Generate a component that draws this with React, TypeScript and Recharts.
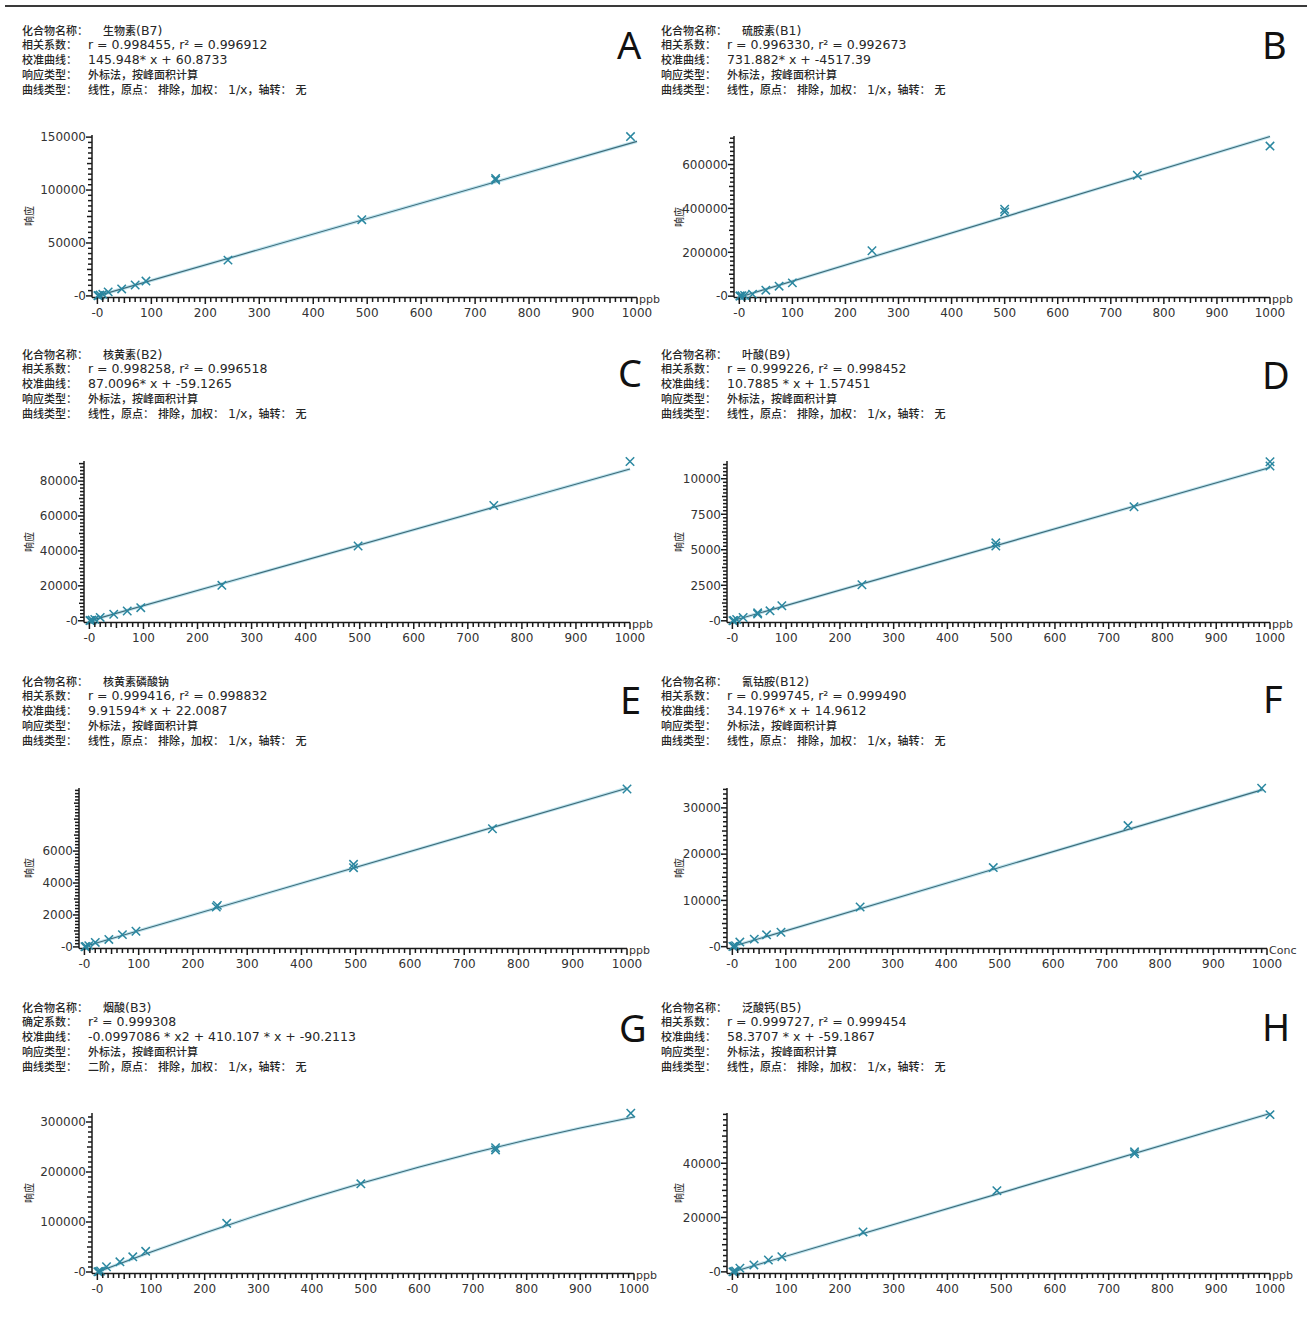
import React from 'react';
import { ScatterChart, Scatter, XAxis, YAxis } from 'recharts';

// ---------- shared axis labels ----------
const xTickLabels = [0, 100, 200, 300, 400, 500, 600, 700, 800, 900, 1000];
const labelsStd = ['化合物名称：', '相关系数：', '校准曲线：', '响应类型：', '曲线类型：'];
const labelsG = ['化合物名称：', '确定系数：', '校准曲线：', '响应类型：', '曲线类型：'];

// ---------- A 生物素(B7) ----------
const textA = ['生物素(B7)', 'r = 0.998455, r² = 0.996912', '145.948* x + 60.8733', '外标法，按峰面积计算', '线性，原点： 排除，加权： 1/x，轴转： 无'];
const concA = [1, 2, 5, 10, 20, 45, 70, 90, 242, 490, 738, 738, 988];
const respA = [200, 400, 800, 1500, 3800, 6600, 10300, 14000, 33800, 72000, 109500, 111000, 150500];
const fitConcA = [0, 1000];
const fitRespA = [60, 146000];
const yLabelsA = [0, 50000, 100000, 150000];

// ---------- B 硫胺素(B1) ----------
const textB = ['硫胺素(B1)', 'r = 0.996330, r² = 0.992673', '731.882* x + -4517.39', '外标法，按峰面积计算', '线性，原点： 排除，加权： 1/x，轴转： 无'];
const concB = [1, 2, 5, 10, 25, 50, 75, 100, 250, 500, 500, 750, 1000];
const respB = [500, 1000, 2000, 3000, 9000, 27300, 45500, 60700, 207000, 384000, 396000, 551000, 684000];
const fitConcB = [0, 1000];
const fitRespB = [-4500, 727400];
const yLabelsB = [0, 200000, 400000, 600000];

// ---------- C 核黄素(B2) ----------
const textC = ['核黄素(B2)', 'r = 0.998258, r² = 0.996518', '87.0096* x + -59.1265', '外标法，按峰面积计算', '线性，原点： 排除，加权： 1/x，轴转： 无'];
const concC = [1, 2, 5, 10, 20, 45, 70, 95, 245, 497, 748, 1000];
const respC = [100, 200, 400, 800, 1900, 3750, 5600, 7500, 20300, 42800, 66000, 91200];
const fitConcC = [0, 1000];
const fitRespC = [-60, 86950];
const yLabelsC = [0, 20000, 40000, 60000, 80000];

// ---------- D 叶酸(B9) ----------
const textD = ['叶酸(B9)', 'r = 0.999226, r² = 0.998452', '10.7885 * x + 1.57451', '外标法，按峰面积计算', '线性，原点： 排除，加权： 1/x，轴转： 无'];
const concD = [1, 3, 8, 20, 47, 47, 70, 92, 241, 490, 490, 747, 1000, 1000];
const respD = [10, 30, 90, 230, 480, 560, 700, 1060, 2540, 5260, 5490, 8030, 10900, 11200];
const fitConcD = [0, 1000];
const fitRespD = [2, 10790];
const yLabelsD = [0, 2500, 5000, 7500, 10000];

// ---------- E 核黄素磷酸钠 ----------
const textE = ['核黄素磷酸钠', 'r = 0.999416, r² = 0.998832', '9.91594* x + 22.0087', '外标法，按峰面积计算', '线性，原点： 排除，加权： 1/x，轴转： 无'];
const concE = [1, 3, 8, 20, 45, 70, 95, 243, 245, 496, 496, 752, 1000];
const respE = [10, 30, 80, 280, 470, 770, 980, 2500, 2600, 4960, 5170, 7400, 9890];
const fitConcE = [0, 1000];
const fitRespE = [22, 9940];
const yLabelsE = [0, 2000, 4000, 6000];

// ---------- F 氰钴胺(B12) ----------
const textF = ['氰钴胺(B12)', 'r = 0.999745, r² = 0.999490', '34.1976* x + 14.9612', '外标法，按峰面积计算', '线性，原点： 排除，加权： 1/x，轴转： 无'];
const concF = [1, 3, 6, 14, 41, 64, 91, 239, 488, 740, 990];
const respF = [30, 100, 200, 990, 1630, 2550, 3120, 8580, 17090, 26170, 34250];
const fitConcF = [0, 992];
const fitRespF = [15, 33950];
const yLabelsF = [0, 10000, 20000, 30000];

// ---------- G 烟酸(B3) ----------
const textG = ['烟酸(B3)', 'r² = 0.999308', '-0.0997086 * x2 + 410.107 * x + -90.2113', '外标法，按峰面积计算', '二阶，原点： 排除，加权： 1/x，轴转： 无'];
const concG = [1, 3, 6, 17, 42, 66, 90, 241, 491, 742, 742, 994];
const respG = [300, 900, 2000, 10500, 20400, 30300, 41400, 97400, 176300, 244100, 248700, 317700];
const fitConcG = [0, 100, 200, 300, 400, 500, 600, 700, 800, 900, 1000];
const fitRespG = [-90, 39900, 78000, 114000, 148000, 180000, 210000, 238000, 264000, 288000, 310000];
const yLabelsG = [0, 100000, 200000, 300000];

// ---------- H 泛酸钙(B5) ----------
const textH = ['泛酸钙(B5)', 'r = 0.999727, r² = 0.999454', '58.3707 * x + -59.1867', '外标法，按峰面积计算', '线性，原点： 排除，加权： 1/x，轴转： 无'];
const concH = [1, 3, 6, 14, 40, 67, 92, 243, 492, 748, 748, 1000];
const respH = [0, 100, 300, 1340, 2550, 4380, 5600, 14700, 29900, 43500, 44200, 57900];
const fitConcH = [0, 1000];
const fitRespH = [-60, 58310];
const yLabelsH = [0, 20000, 40000];

type Layout = {
  panelX: number; textX: number; textTop: number; letterLeft: number; letterTop: number;
  axisX: number; plotTop: number; plotBottom: number; plotRight: number;
};
type PanelDef = {
  letter: string; labels: string[]; text: string[];
  conc: number[]; resp: number[]; fitConc: number[]; fitResp: number[];
  yLabels: number[]; yStep: number; yTop: number; yDomain: [number, number];
  unit: string; curve: 'linear' | 'monotoneX'; layout: Layout;
};

const panels: PanelDef[] = [
  { letter: 'A', labels: labelsStd, text: textA, conc: concA, resp: respA, fitConc: fitConcA, fitResp: fitRespA,
    yLabels: yLabelsA, yStep: 5000, yTop: 150000, yDomain: [-1500, 152000], unit: 'ppb', curve: 'linear',
    layout: { panelX: 0, textX: 22, textTop: 30, letterLeft: 617, letterTop: 32, axisX: 92, plotTop: 135, plotBottom: 297.5, plotRight: 637 } },
  { letter: 'B', labels: labelsStd, text: textB, conc: concB, resp: respB, fitConc: fitConcB, fitResp: fitRespB,
    yLabels: yLabelsB, yStep: 20000, yTop: 720000, yDomain: [-6000, 730000], unit: 'ppb', curve: 'linear',
    layout: { panelX: 650, textX: 661, textTop: 30, letterLeft: 1262, letterTop: 32, axisX: 734, plotTop: 136, plotBottom: 297.5, plotRight: 1270 } },
  { letter: 'C', labels: labelsStd, text: textC, conc: concC, resp: respC, fitConc: fitConcC, fitResp: fitRespC,
    yLabels: yLabelsC, yStep: 2000, yTop: 90000, yDomain: [-1000, 91500], unit: 'ppb', curve: 'linear',
    layout: { panelX: 0, textX: 22, textTop: 354, letterLeft: 618, letterTop: 360, axisX: 84, plotTop: 461, plotBottom: 622.5, plotRight: 630 } },
  { letter: 'D', labels: labelsStd, text: textD, conc: concD, resp: respD, fitConc: fitConcD, fitResp: fitRespD,
    yLabels: yLabelsD, yStep: 250, yTop: 11000, yDomain: [-120, 11250], unit: 'ppb', curve: 'linear',
    layout: { panelX: 650, textX: 661, textTop: 354, letterLeft: 1262, letterTop: 362, axisX: 727, plotTop: 461, plotBottom: 622.5, plotRight: 1270 } },
  { letter: 'E', labels: labelsStd, text: textE, conc: concE, resp: respE, fitConc: fitConcE, fitResp: fitRespE,
    yLabels: yLabelsE, yStep: 200, yTop: 9800, yDomain: [-100, 9950], unit: 'ppb', curve: 'linear',
    layout: { panelX: 0, textX: 22, textTop: 681, letterLeft: 620, letterTop: 687, axisX: 79, plotTop: 788, plotBottom: 948.5, plotRight: 627 } },
  { letter: 'F', labels: labelsStd, text: textF, conc: concF, resp: respF, fitConc: fitConcF, fitResp: fitRespF,
    yLabels: yLabelsF, yStep: 1000, yTop: 34000, yDomain: [-400, 34300], unit: 'Conc', curve: 'linear',
    layout: { panelX: 650, textX: 661, textTop: 681, letterLeft: 1263, letterTop: 686, axisX: 727, plotTop: 788, plotBottom: 948.5, plotRight: 1267 } },
  { letter: 'G', labels: labelsG, text: textG, conc: concG, resp: respG, fitConc: fitConcG, fitResp: fitRespG,
    yLabels: yLabelsG, yStep: 10000, yTop: 310000, yDomain: [-3000, 318000], unit: 'ppb', curve: 'monotoneX',
    layout: { panelX: 0, textX: 22, textTop: 1007, letterLeft: 619, letterTop: 1015, axisX: 92, plotTop: 1113, plotBottom: 1273.5, plotRight: 634 } },
  { letter: 'H', labels: labelsStd, text: textH, conc: concH, resp: respH, fitConc: fitConcH, fitResp: fitRespH,
    yLabels: yLabelsH, yStep: 2000, yTop: 58000, yDomain: [-600, 58500], unit: 'ppb', curve: 'linear',
    layout: { panelX: 650, textX: 661, textTop: 1007, letterLeft: 1262, letterTop: 1014, axisX: 727, plotTop: 1113, plotBottom: 1273.5, plotRight: 1270 } },
];

const xMinorTicks: number[] = [];
for (let v = 0; v <= 1000; v += 10) xMinorTicks.push(v);

const AXIS = '#1a1a1a';
const TICK_TXT = '#333';
const MARK = '#2a87a0';
const FIT = '#3d6a78';
const HALO = '#bfe4ee';
const LATIN = '"DejaVu Sans", Verdana, sans-serif';
const CJK_FONT = '"Noto Sans CJK SC", sans-serif';

const CJK_RE = /([\u2E80-\u9FFF\u3000-\u303F\uFF00-\uFFEF]+)/;

function Mixed({ text, cjkSize }: { text: string; cjkSize: number }) {
  const parts = text.split(CJK_RE);
  return (
    <>
      {parts.map((p, i) =>
        p === '' ? null : i % 2 === 1 ? (
          <span key={i} style={{ fontFamily: CJK_FONT, fontSize: cjkSize, fontWeight: 500 }}>{p}</span>
        ) : (
          <span key={i}>{p}</span>
        )
      )}
    </>
  );
}

const fmt = (v: number) => (v === 0 ? '-0' : String(v));

const makeXTick = (unit: string) => (props: any) => {
  const { x, y, payload } = props;
  const v = payload.value as number;
  const major = v % 100 === 0;
  const len = major ? 6.5 : v % 50 === 0 ? 5.5 : 4.5;
  return (
    <g className="x-minor-tick">
      <path d={`M${x},${y}V${y + len}`} stroke={AXIS} strokeWidth={1.5} fill="none" />
      {major && (
        <text x={x} y={y + 15} dy={4.3} textAnchor="middle" fontSize={12} fill={TICK_TXT} fontFamily={LATIN}>
          {fmt(v)}
        </text>
      )}
      {v === 1000 && (
        <text x={x + 2} y={y + 2} dy={3.8} textAnchor="start" fontSize={11} fill={TICK_TXT} fontFamily={LATIN}>
          {unit}
        </text>
      )}
    </g>
  );
};

const makeYTick = (labels: number[], step: number) => (props: any) => {
  const { x, y, payload } = props;
  const v = payload.value as number;
  const labeled = labels.includes(v);
  const half = Math.round(v / step) % 5 === 0;
  const len = labeled ? 6 : half ? 5 : 4;
  return (
    <g className="y-minor-tick">
      <path d={`M${x - len},${y}H${x}`} stroke={AXIS} strokeWidth={1.5} fill="none" />
      {labeled && (
        <text x={x - 6} y={y} dy={4.3} textAnchor="end" fontSize={12} fill={TICK_TXT} fontFamily={LATIN}>
          {fmt(v)}
        </text>
      )}
    </g>
  );
};

const Cross = (props: any) => {
  const { cx, cy } = props;
  if (cx == null || cy == null) return <g />;
  const s = 4.2;
  return (
    <g>
      <line x1={cx - s} y1={cy - s} x2={cx + s} y2={cy + s} stroke={MARK} strokeWidth={1.5} />
      <line x1={cx - s} y1={cy + s} x2={cx + s} y2={cy - s} stroke={MARK} strokeWidth={1.5} />
    </g>
  );
};

const NoShape = () => <g />;

function Panel({ p }: { p: PanelDef }) {
  const L = p.layout;
  const yAxisW = 70;
  const mTop = 10;
  const mRight = 34;
  const xAxisH = 26;
  const mLeft = L.axisX - L.panelX - yAxisW;
  const plotW = L.plotRight - L.axisX;
  const plotH = L.plotBottom - L.plotTop;
  const width = mLeft + yAxisW + plotW + mRight;
  const height = mTop + plotH + xAxisH;

  const pts = p.conc.map((x, i) => ({ x, y: p.resp[i] }));
  const fit = p.fitConc.map((x, i) => ({ x, y: p.fitResp[i] }));
  const yTicks: number[] = [];
  for (let v = 0; v <= p.yTop + 1e-9; v += p.yStep) yTicks.push(Math.round(v));

  return (
    <>
      <div style={{ position: 'absolute', left: L.textX, top: L.textTop - 7.4, fontFamily: LATIN, fontSize: 12.5, color: '#262626' }}>
        {p.labels.map((lab, i) => (
          <div key={i} style={{ height: 14.8, lineHeight: '14.8px', whiteSpace: 'nowrap' }}>
            <span style={{ display: 'inline-block', width: i === 0 ? 81 : 66, fontFamily: CJK_FONT, fontSize: 11, fontWeight: 500 }}>{lab}</span>
            <Mixed text={p.text[i]} cjkSize={11} />
          </div>
        ))}
      </div>
      <div style={{ position: 'absolute', left: L.letterLeft, top: L.letterTop - 6.6, fontFamily: '"Noto Sans", sans-serif', fontSize: 38, lineHeight: '38px', color: '#111' }}>
        {p.letter}
      </div>
      <div style={{ position: 'absolute', left: L.panelX + 29, top: (L.plotTop + L.plotBottom) / 2, transform: 'translate(-50%, -50%) rotate(-90deg)', fontFamily: CJK_FONT, fontSize: 10, fontWeight: 500, lineHeight: 1, color: '#333', whiteSpace: 'nowrap' }}>
        响应
      </div>
      <div style={{ position: 'absolute', left: L.panelX, top: L.plotTop - mTop }}>
        <ScatterChart width={width} height={height} margin={{ top: mTop, right: mRight, bottom: 0, left: mLeft }}>
          <XAxis
            type="number" dataKey="x" domain={[-10, 1000]} ticks={xMinorTicks} interval={0}
            tick={makeXTick(p.unit)} tickLine={false} tickSize={0} tickMargin={0} height={xAxisH}
            axisLine={{ stroke: AXIS, strokeWidth: 1.5 }}
          />
          <YAxis
            type="number" dataKey="y" domain={p.yDomain} ticks={yTicks} interval={0}
            tick={makeYTick(p.yLabels, p.yStep)} tickLine={false} tickSize={0} tickMargin={0} width={yAxisW}
            axisLine={{ stroke: AXIS, strokeWidth: 1.5 }}
          />
          <Scatter data={fit} line={{ stroke: HALO, strokeWidth: 3.2 }} lineJointType={p.curve} shape={NoShape} isAnimationActive={false} />
          <Scatter data={fit} line={{ stroke: FIT, strokeWidth: 1.1 }} lineJointType={p.curve} shape={NoShape} isAnimationActive={false} />
          <Scatter data={pts} shape={Cross} isAnimationActive={false} />
        </ScatterChart>
      </div>
    </>
  );
}

export default function App() {
  return (
    <div style={{ position: 'absolute', left: 0, top: 0, width: 1307, height: 1320, background: '#fff', overflow: 'hidden' }}>
      <div style={{ position: 'absolute', left: 5, top: 5, width: 1302, height: 2, background: '#3a3a3a' }} />
      {panels.map((p) => (
        <Panel key={p.letter} p={p} />
      ))}
    </div>
  );
}
